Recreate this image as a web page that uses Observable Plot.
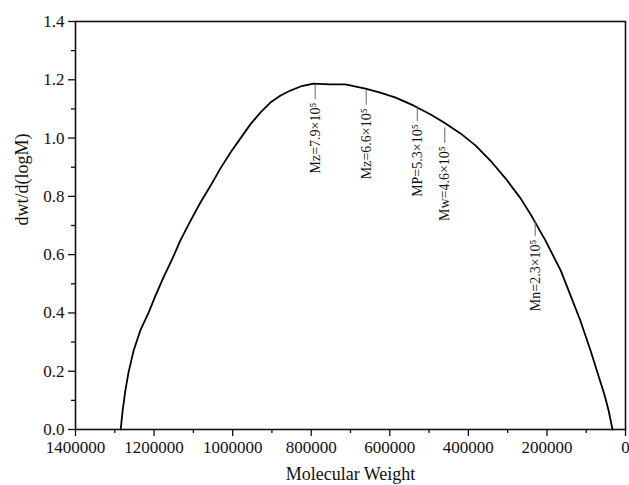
<!DOCTYPE html>
<html><head><meta charset="utf-8">
<script src="https://cdn.jsdelivr.net/npm/d3@7"></script>
<script src="https://cdn.jsdelivr.net/npm/@observablehq/plot@0.6"></script>
<style>body{margin:0;background:#fff}</style>
</head><body><div id="chart"></div>
<script>
// Molecular weight (x) and dwt/d(logM) (y)
const molWeight = [1285000,1280000,1273000,1265000,1252000,1235000,1214000,1196000,1176000,1153000,1133000,1107000,1082000,1056000,1031000,1005000,980000,955000,929000,904000,878000,853000,827000,794000,751000,713000,662000,624000,585000,540000,496000,463000,420000,382000,344000,305000,267000,237000,204000,165000,140000,115000,89000,69000,53000,43000,33000];
const dwt = [0,0.065,0.134,0.196,0.271,0.340,0.401,0.460,0.522,0.587,0.649,0.717,0.779,0.837,0.896,0.951,0.999,1.047,1.088,1.122,1.146,1.163,1.177,1.187,1.184,1.184,1.170,1.156,1.139,1.112,1.081,1.054,1.016,0.975,0.923,0.861,0.793,0.728,0.649,0.546,0.460,0.374,0.271,0.185,0.117,0.065,0];

const xTicks = [1400000,1200000,1000000,800000,600000,400000,200000,0];
const xMinor = [1300000,1100000,900000,700000,500000,300000,100000];
const yTicks = [0,0.2,0.4,0.6,0.8,1.0,1.2,1.4];
const yMinor = [0.1,0.3,0.5,0.7,0.9,1.1,1.3];

const annotLabels = ["Mz=7.9×10⁵","Mz=6.6×10⁵","MP=5.3×10⁵","Mw=4.6×10⁵","Mn=2.3×10⁵"];
const annotMW = [790000,660000,530000,460000,230000];
const annotTop = [1.185,1.165,1.11,1.035,0.715];

const curve = molWeight.map((m,i)=>({m, y: dwt[i]}));
const annots = annotLabels.map((t,i)=>({t, m: annotMW[i], top: annotTop[i], bottom: annotTop[i]-0.053}));

const font = "'Liberation Serif','Times New Roman',serif";
const chart = Plot.plot({
  width: 629, height: 485,
  marginLeft: 75, marginRight: 4, marginTop: 21, marginBottom: 56,
  x: {domain: [1400000, 0]},
  y: {domain: [0, 1.4]},
  style: {fontFamily: font, fontSize: "17px", color: "#111", background: "#fff"},
  marks: [
    Plot.axisX(xTicks, {tickSize: 7, tickPadding: 4, tickFormat: d => String(d), label: null, fontSize: 17, strokeWidth: 1.3}),
    Plot.axisX(xMinor, {tickSize: 4, tickFormat: () => "", label: null, strokeWidth: 1.3}),
    Plot.axisY(yTicks, {tickSize: 7, tickPadding: 4, tickFormat: d3.format(".1f"), label: null, fontSize: 17, strokeWidth: 1.3}),
    Plot.axisY(yMinor, {tickSize: 4, tickFormat: () => "", label: null, strokeWidth: 1.3}),
    Plot.frame({stroke: "#111", strokeWidth: 1.6}),
    Plot.line(curve, {x: "m", y: "y", stroke: "#000", strokeWidth: 1.8}),
    Plot.ruleX(annots, {x: "m", y1: "top", y2: "bottom", stroke: "#666", strokeWidth: 1}),
    Plot.text(annots, {x: "m", y: "bottom", text: "t", rotate: -90, textAnchor: "end", dy: 3, fontSize: 14, fill: "#111"}),
    Plot.text(["Molecular Weight"], {frameAnchor: "bottom", dy: 50, fontSize: 18, fill: "#111"}),
    Plot.text(["dwt/d(logM)"], {frameAnchor: "left", rotate: -90, dx: -53, fontSize: 18, fill: "#111"})
  ]
});
document.getElementById("chart").appendChild(chart);
</script>
</body></html>
